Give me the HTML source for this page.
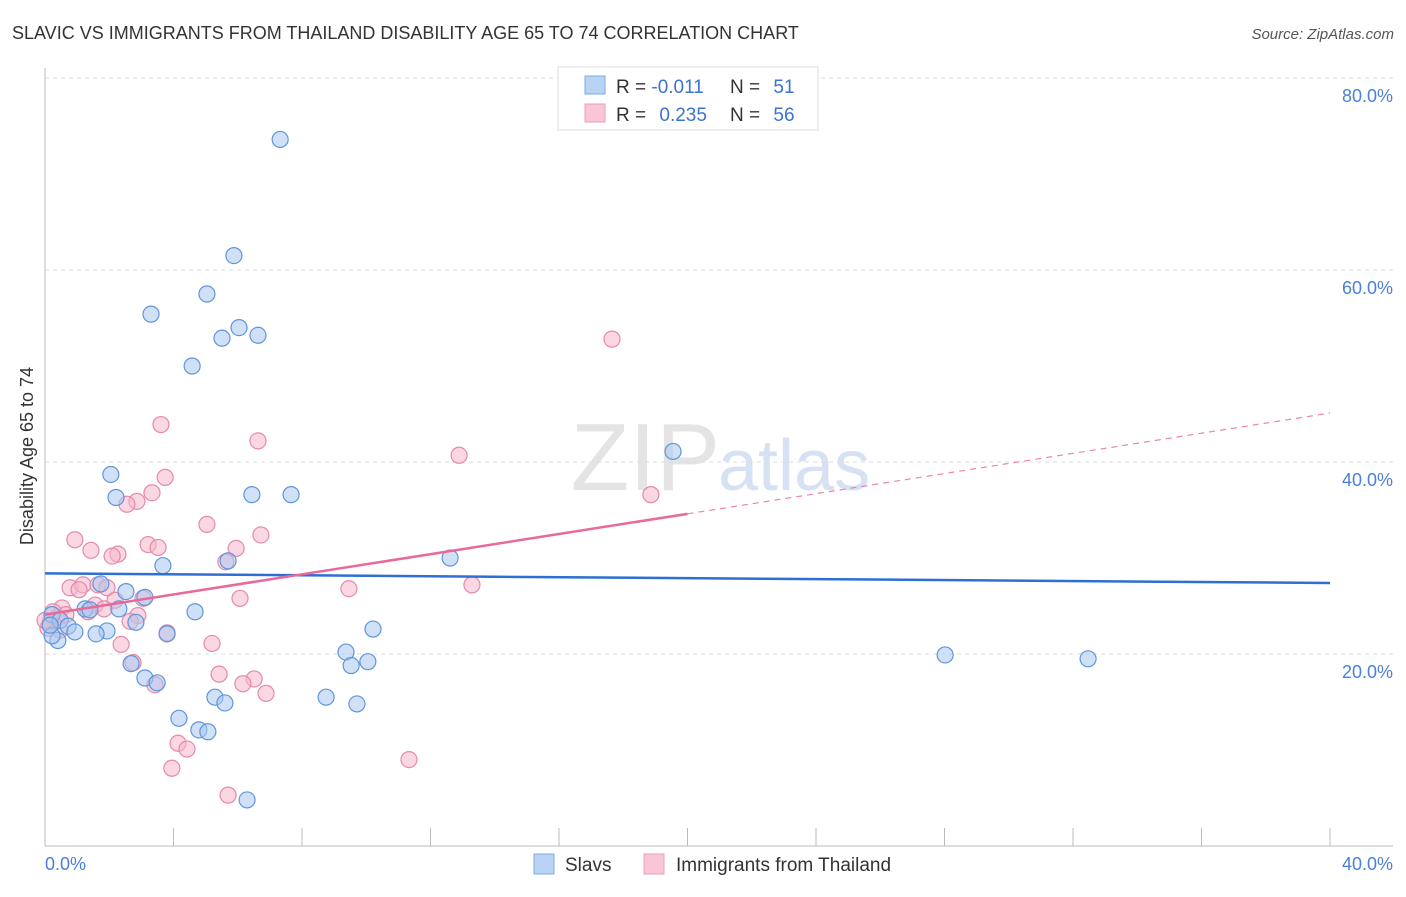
<!DOCTYPE html>
<html><head><meta charset="utf-8"><style>
body{margin:0;background:#fff;font-family:"Liberation Sans",sans-serif;}
svg text{font-family:"Liberation Sans",sans-serif;}
</style></head><body>
<svg id="chart" width="1406" height="892" xmlns="http://www.w3.org/2000/svg">
<text x="12" y="39" font-size="18" fill="#333">SLAVIC VS IMMIGRANTS FROM THAILAND DISABILITY AGE 65 TO 74 CORRELATION CHART</text>
<text x="1394" y="39" font-size="15" fill="#555" font-style="italic" text-anchor="end">Source: ZipAtlas.com</text>
<text x="720" y="490" font-size="96" fill="#e4e4e4" text-anchor="end" font-family="Liberation Serif">ZIP</text>
<text x="718" y="490" font-size="72" fill="#d6e2f3">atlas</text>
<g id="grid"></g>
<g id="axes"></g>
<g id="marks"></g>
<text transform="translate(33,456) rotate(-90)" font-size="18" fill="#333" text-anchor="middle">Disability Age 65 to 74</text>
<text x="45" y="870" font-size="18" fill="#4a7fd6">0.0%</text>
<text x="1393" y="870" font-size="18" fill="#4a7fd6" text-anchor="end">40.0%</text>
<g>
<rect x="558" y="67" width="260" height="63" fill="#fff" stroke="#ddd"/>
<rect x="585" y="76" width="20" height="18" fill="#b8d3f4" stroke="#7fa8e0"/>
<rect x="585" y="104" width="20" height="18" fill="#f9c6d6" stroke="#eba0b8"/>
<text x="616" y="93" font-size="19" fill="#333">R = <tspan fill="#3b73d0">-0.011</tspan></text>
<text x="730" y="93" font-size="19" fill="#333">N = <tspan fill="#3b73d0" dx="8">51</tspan></text>
<text x="616" y="121" font-size="19" fill="#333">R = <tspan fill="#3b73d0" dx="8">0.235</tspan></text>
<text x="730" y="121" font-size="19" fill="#333">N = <tspan fill="#3b73d0" dx="8">56</tspan></text>
</g>
<g>
<rect x="534" y="854" width="20" height="20" fill="#b8d3f4" stroke="#7fa8e0"/>
<text x="565" y="871" font-size="19" fill="#333">Slavs</text>
<rect x="644" y="854" width="20" height="20" fill="#f9c6d6" stroke="#eba0b8"/>
<text x="676" y="871" font-size="19" fill="#333">Immigrants from Thailand</text>
</g>
</svg>
<script>
const yTicks=[20,40,60,80];
const yTickLabels=["20.0%","40.0%","60.0%","80.0%"];
const slavX=[7.32,5.88,5.04,3.30,6.04,5.51,6.63,4.58,19.55,2.05,2.21,6.44,7.66,12.61,3.67,5.70,2.52,1.74,3.11,1.25,1.40,2.30,4.67,0.22,0.47,0.72,0.93,1.93,1.59,2.83,3.80,0.40,0.22,10.21,9.37,9.53,10.05,2.68,3.11,3.49,5.29,5.60,8.75,9.71,4.17,4.79,5.07,28.02,32.47,6.29,0.16];
const slavY=[73.6,61.5,57.5,55.4,54.0,52.9,53.2,50.0,41.1,38.7,36.3,36.6,36.6,30.0,29.2,29.7,26.5,27.3,25.9,24.7,24.6,24.7,24.4,24.1,23.5,22.9,22.3,22.4,22.1,23.3,22.1,21.4,21.9,22.6,20.2,18.8,19.2,19.0,17.5,17.0,15.5,14.9,15.5,14.8,13.3,12.1,11.9,19.9,19.5,4.8,23.0];
const thaiX=[17.65,3.61,6.63,12.89,3.74,3.33,2.86,2.55,18.86,5.04,6.72,0.93,1.43,2.27,2.09,3.21,3.52,5.95,5.63,0.78,1.18,1.65,1.93,1.06,9.46,13.29,2.18,3.05,6.07,1.56,0.53,1.84,2.89,2.65,0.16,0.37,0.09,3.80,5.20,2.37,2.74,5.42,6.51,6.16,3.42,6.88,4.14,4.42,3.95,11.33,5.70,0.65,1.34,0.25,0.0,0.47];
const thaiY=[52.8,43.9,42.2,40.7,38.4,36.8,35.9,35.6,36.6,33.5,32.4,31.9,30.8,30.4,30.2,31.4,31.1,31.0,29.6,26.9,27.2,27.2,26.9,26.7,26.8,27.2,25.6,25.8,25.8,25.1,24.8,24.7,24.0,23.4,23.3,23.8,22.7,22.2,21.1,21.0,19.1,17.9,17.4,16.9,16.8,15.9,10.7,10.1,8.1,9.0,5.3,24.1,24.4,24.4,23.5,22.5];
const slavTrend=[28.4,27.4];
const thaiTrend=[24.1,45.1];
const NS="http://www.w3.org/2000/svg";
const xs=v=>45+v*32.125, ys=v=>846-v*9.6;
function mk(tag,attrs,parent){const e=document.createElementNS(NS,tag);for(const k in attrs)e.setAttribute(k,attrs[k]);parent.appendChild(e);return e;}
const grid=document.getElementById('grid'),axes=document.getElementById('axes'),marks=document.getElementById('marks');
yTicks.forEach((t,i)=>{
 const l=mk('line',{x1:45,x2:1393,y1:ys(t),y2:ys(t),stroke:'#ddd','stroke-dasharray':'4,4'},grid);
 
 
 const tx=mk('text',{x:1393,y:ys(t)+24,'font-size':18,fill:'#4a7fd6','text-anchor':'end'},axes);
 tx.textContent=yTickLabels[i];
 
 
});
let a=mk('line',{x1:45,x2:45,y1:68,y2:846,stroke:'#bbb'},axes);
a=mk('line',{x1:45,x2:1393,y1:846,y2:846,stroke:'#bbb'},axes);
for(let i=1;i<=10;i++){const t=mk('line',{x1:xs(i*4),x2:xs(i*4),y1:828,y2:846,stroke:'#bbb'},axes);
 
 }
function pts(X,Y,fill,stroke,name){X.forEach((x,i)=>{const c=mk('circle',{cx:xs(x),cy:ys(Y[i]),r:8,fill:fill,'fill-opacity':0.55,stroke:stroke,'stroke-width':1.2},marks);
 
 });}
pts(thaiX,thaiY,'#f6b6ca','#e58aa8','point-thailand');
pts(slavX,slavY,'#a9c9f1','#5f95dc','point-slavs');
let t1=mk('line',{x1:xs(0),y1:ys(slavTrend[0]),x2:xs(40),y2:ys(slavTrend[1]),stroke:'#2d6fd2','stroke-width':2.5},marks);


const ty=x=>thaiTrend[0]+(thaiTrend[1]-thaiTrend[0])*x/40;
let t2=mk('line',{x1:xs(0),y1:ys(ty(0)),x2:xs(20),y2:ys(ty(20)),stroke:'#e8699a','stroke-width':2.5},marks);


let t3=mk('line',{x1:xs(20),y1:ys(ty(20)),x2:xs(40),y2:ys(ty(40)),stroke:'#eb86ab','stroke-width':1.2,'stroke-dasharray':'6,5'},marks);


</script>
</body></html>
